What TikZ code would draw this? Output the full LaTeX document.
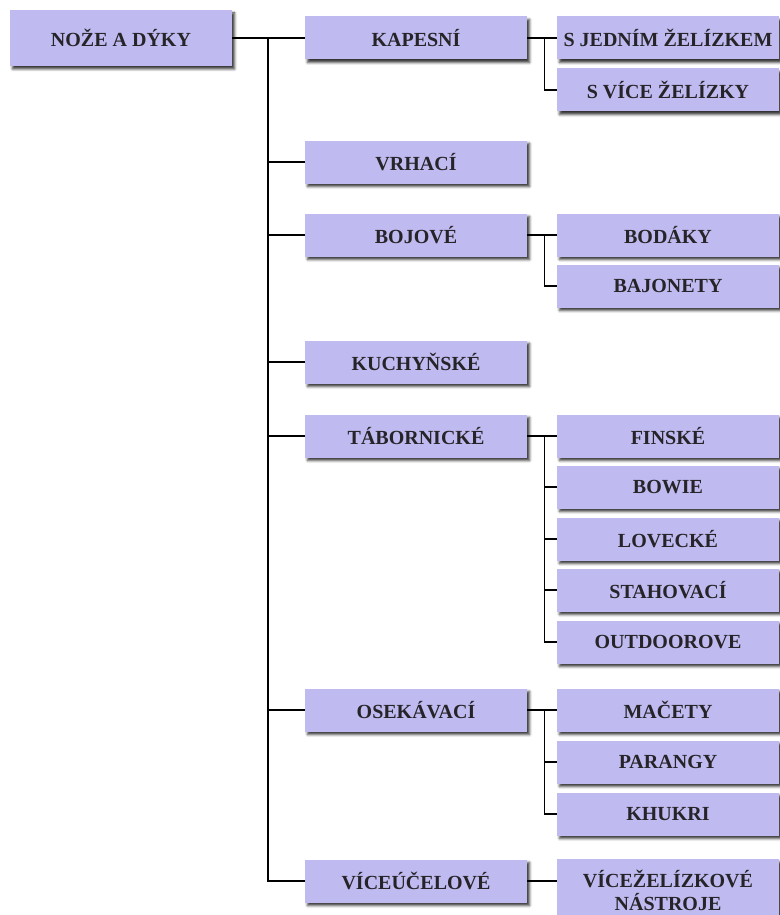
\documentclass[tikz,border=0pt]{standalone}
\usepackage{fontspec}
\setmainfont{Liberation Serif}
\usetikzlibrary{shadows.blur}
\definecolor{boxfill}{RGB}{191,187,240}
\definecolor{boxtext}{RGB}{38,36,40}

\begin{document}
\begin{tikzpicture}[x=1pt,y=-1pt,
  box/.style={fill=boxfill, text=boxtext, minimum width=222pt, minimum height=43pt,
    inner sep=0pt, align=center, font=\fontsize{20}{23}\selectfont\bfseries,
    blur shadow={shadow xshift=2.5pt, shadow yshift=-3pt, shadow blur radius=2.5pt, shadow opacity=80}},
  link/.style={line width=1.3pt}]
\useasboundingbox (0,0) rectangle (779,915);
% root and first level
\node[box, minimum height=56pt] (root) at (121,38) {NOŽE A DÝKY};
\node[box] (kap) at (416,38) {KAPESNÍ};
\node[box] (vrh) at (416,162) {VRHACÍ};
\node[box] (boj) at (416,235) {BOJOVÉ};
\node[box] (kuch) at (416,362) {KUCHYŇSKÉ};
\node[box] (tab) at (416,436) {TÁBORNICKÉ};
\node[box] (ose) at (416,710) {OSEKÁVACÍ};
\node[box] (vic) at (416,881) {VÍCEÚČELOVÉ};
% second level
\node[box] (jed) at (668,38) {S JEDNÍM ŽELÍZKEM};
\node[box] (vice) at (668,90) {S VÍCE ŽELÍZKY};
\node[box] (bod) at (668,235) {BODÁKY};
\node[box] (baj) at (668,286) {BAJONETY};
\node[box] (fin) at (668,436) {FINSKÉ};
\node[box] (bow) at (668,487) {BOWIE};
\node[box] (lov) at (668,539) {LOVECKÉ};
\node[box] (sta) at (668,590) {STAHOVACÍ};
\node[box] (out) at (668,642) {OUTDOOROVE};
\node[box] (mac) at (668,710) {MAČETY};
\node[box] (par) at (668,762) {PARANGY};
\node[box] (khu) at (668,814) {KHUKRI};
\node[box, minimum height=62pt] (nas) at (668,890) {VÍCEŽELÍZKOVÉ\\NÁSTROJE};
% trunk
\coordinate (trunk) at (268,38);
\draw[link] (root) -- (kap);
\draw[link] (trunk) |- (vic.west);
\foreach \n in {vrh,boj,kuch,tab,ose}
  \draw[link] (trunk |- \n.west) -- (\n.west);
% branches
\draw[link] (kap) -- (jed);
\draw[link] ([xshift=17pt]kap.east) |- (vice.west);
\draw[link] (boj) -- (bod);
\draw[link] ([xshift=17pt]boj.east) |- (baj.west);
\draw[link] (tab) -- (fin);
\draw[link] ([xshift=17pt]tab.east) |- (out.west);
\foreach \n in {bow,lov,sta}
  \draw[link] ([xshift=17pt]tab.east |- \n.west) -- (\n.west);
\draw[link] (ose) -- (mac);
\draw[link] ([xshift=17pt]ose.east) |- (khu.west);
\draw[link] ([xshift=17pt]ose.east |- par.west) -- (par.west);
\draw[link] (vic.east) -- (vic.east -| nas.west);
\end{tikzpicture}
\end{document}
